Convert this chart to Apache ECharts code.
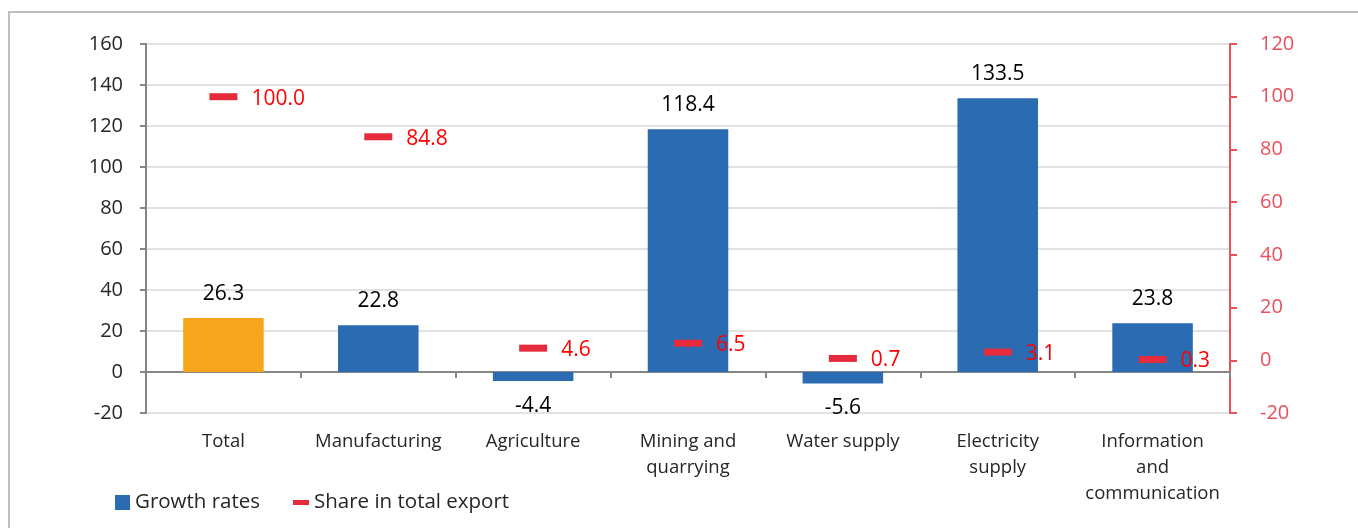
<!DOCTYPE html>
<html><head><meta charset="utf-8">
<script src="https://cdn.jsdelivr.net/npm/echarts@6/dist/echarts.min.js"></script>
<style>html,body{margin:0;padding:0;background:#fff}#c{width:1358px;height:528px}</style>
</head><body><div id="c"></div>
<script>
const categories = ['Total','Manufacturing','Agriculture','Mining and\nquarrying','Water supply','Electricity\nsupply','Information\nand\ncommunication'];
const growthRates = [26.3, 22.8, -4.4, 118.4, -5.6, 133.5, 23.8];
const shareInExport = [100.0, 84.8, 4.6, 6.5, 0.7, 3.1, 0.3];
const leftTicks = {min: -20, max: 160, interval: 20};
const rightTicks = {min: -20, max: 120, interval: 20};

const FONT = '"Open Sans", "Noto Sans", sans-serif';
const chart = echarts.init(document.getElementById('c'));
chart.setOption({
  animation: false,
  textStyle: {fontFamily: FONT},
  graphic: [{type: 'rect', shape: {x: 9, y: 12, width: 1400, height: 600}, style: {fill: 'none', stroke: '#bfbfbf', lineWidth: 2}, z: -1}],
  grid: {left: 146, right: 128, top: 44, bottom: 115, outerBoundsMode: 'none', containLabel: false},
  legend: [
    {data: [{name: 'Growth rates', icon: 'rect'}], left: 110, top: 487, itemWidth: 15, itemHeight: 15, itemGap: 4,
     textStyle: {fontSize: 20.5, color: '#262626', fontFamily: FONT}},
    {data: [{name: 'Share in total export', icon: 'rect'}], left: 288, top: 487, itemWidth: 16, itemHeight: 5, itemGap: 4,
     textStyle: {fontSize: 20.5, color: '#262626', fontFamily: FONT}}
  ],
  xAxis: {
    type: 'category', data: categories,
    axisLine: {onZero: true, lineStyle: {color: '#868686', width: 2}},
    axisTick: {show: true, alignWithLabel: false, length: 6, lineStyle: {color: '#868686', width: 2}},
    axisLabel: {interval: 0, fontSize: 18.5, color: '#262626', lineHeight: 26, margin: 16, fontFamily: FONT, verticalAlign: 'top'},
    splitLine: {show: false}
  },
  yAxis: [
    {type: 'value', min: leftTicks.min, max: leftTicks.max, interval: leftTicks.interval,
     axisLine: {show: true, lineStyle: {color: '#868686', width: 2}},
     axisTick: {show: true, length: 6, lineStyle: {color: '#868686', width: 2}},
     axisLabel: {fontSize: 20, color: '#262626', margin: 23, fontFamily: FONT},
     splitLine: {show: true, lineStyle: {color: '#d9d9d9', width: 1.5}}},
    {type: 'value', min: rightTicks.min, max: rightTicks.max, interval: rightTicks.interval,
     position: 'right',
     axisLine: {show: true, onZero: false, lineStyle: {color: '#e8505b', width: 2}},
     axisTick: {show: true, length: 7, lineStyle: {color: '#e8505b', width: 2}},
     axisLabel: {fontSize: 20, color: '#e8505b', margin: 30, fontFamily: FONT},
     splitLine: {show: false}}
  ],
  series: [
    {name: 'Growth rates', type: 'bar', yAxisIndex: 0, barWidth: '52%',
     itemStyle: {color: '#2b6bb2'},
     data: growthRates.map((v, i) => i === 0 ? {value: v, itemStyle: {color: '#f7a51c'}} : v),
     label: {show: true, position: 'outside', distance: 14, fontSize: 21, color: '#000', fontFamily: FONT,
             formatter: p => p.value.toFixed(1)},
     z: 2},
    {name: 'Share in total export', type: 'scatter', yAxisIndex: 1, symbol: 'rect', symbolSize: [28, 7],
     itemStyle: {color: '#e62b3c', opacity: 1},
     data: shareInExport,
     label: {show: true, position: 'right', distance: 14, fontSize: 21, color: '#ff0000', fontFamily: FONT, offset: [0, 2],
             formatter: p => p.value.toFixed(1)},
     z: 3}
  ]
});
</script></body></html>
